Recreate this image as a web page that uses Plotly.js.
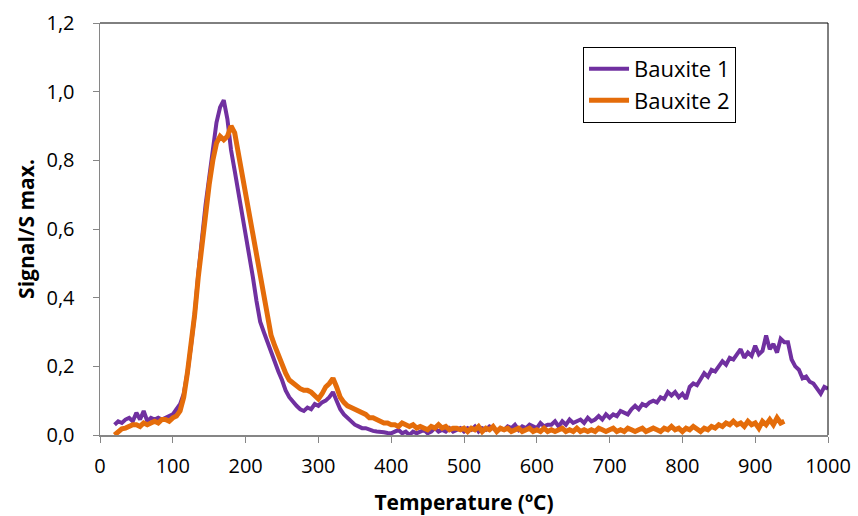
<!DOCTYPE html>
<html>
<head>
<meta charset="utf-8">
<script src="https://cdn.plot.ly/plotly-3.0.1.min.js"></script>
<style>html,body{margin:0;padding:0;background:#fff;}#chart{width:858px;height:516px;}</style>
</head>
<body>
<div id="chart"></div>
<script>
// Temperature (ºC) grid for Bauxite 1
const tempB1 = [20,25,30,35,40,45,50,55,60,65,70,75,80,85,90,95,100,105,110,115,120,125,130,135,140,145,150,155,160,165,170,175,180,185,190,195,200,205,210,215,220,225,230,235,240,245,250,255,260,265,270,275,280,285,290,295,300,305,310,315,320,325,330,335,340,345,350,355,360,365,370,375,380,385,390,395,400,405,410,415,420,425,430,435,440,445,450,455,460,465,470,475,480,485,490,495,500,505,510,515,520,525,530,535,540,545,550,555,560,565,570,575,580,585,590,595,600,605,610,615,620,625,630,635,640,645,650,655,660,665,670,675,680,685,690,695,700,705,710,715,720,725,730,735,740,745,750,755,760,765,770,775,780,785,790,795,800,805,810,815,820,825,830,835,840,845,850,855,860,865,870,875,880,885,890,895,900,905,910,915,920,925,930,935,940,945,950,955,960,965,970,975,980,985,990,995,1000];
const signalB1 = [0.03,0.04,0.035,0.045,0.05,0.04,0.065,0.045,0.07,0.04,0.05,0.045,0.05,0.045,0.05,0.055,0.06,0.075,0.09,0.12,0.18,0.26,0.35,0.47,0.58,0.67,0.75,0.84,0.91,0.955,0.975,0.92,0.83,0.77,0.71,0.65,0.59,0.52,0.46,0.39,0.33,0.30,0.27,0.24,0.21,0.185,0.16,0.13,0.11,0.095,0.085,0.075,0.07,0.08,0.075,0.09,0.085,0.095,0.10,0.11,0.125,0.10,0.075,0.06,0.05,0.04,0.03,0.025,0.02,0.02,0.015,0.012,0.01,0.01,0.008,0.006,0.005,0.01,0.015,0.005,0.01,0.0,0.01,0.005,0.01,0.015,0.005,0.01,0.02,0.01,0.015,0.01,0.02,0.01,0.015,0.02,0.01,0.02,0.015,0.025,0.01,0.02,0.015,0.025,0.02,0.01,0.02,0.015,0.025,0.02,0.03,0.015,0.025,0.02,0.03,0.025,0.02,0.035,0.025,0.03,0.03,0.04,0.025,0.04,0.03,0.045,0.035,0.04,0.045,0.035,0.05,0.04,0.045,0.055,0.045,0.06,0.05,0.06,0.055,0.07,0.065,0.06,0.075,0.085,0.075,0.09,0.085,0.095,0.10,0.095,0.11,0.105,0.125,0.115,0.125,0.11,0.12,0.105,0.14,0.15,0.145,0.165,0.18,0.17,0.19,0.185,0.20,0.215,0.205,0.225,0.22,0.235,0.25,0.225,0.24,0.23,0.26,0.235,0.245,0.29,0.25,0.265,0.24,0.28,0.27,0.27,0.22,0.20,0.19,0.165,0.17,0.155,0.15,0.135,0.12,0.14,0.135];

// Temperature (ºC) grid for Bauxite 2
const tempB2 = [20,25,30,35,40,45,50,55,60,65,70,75,80,85,90,95,100,105,110,115,120,125,130,135,140,145,150,155,160,165,170,175,180,185,190,195,200,205,210,215,220,225,230,235,240,245,250,255,260,265,270,275,280,285,290,295,300,305,310,315,320,325,330,335,340,345,350,355,360,365,370,375,380,385,390,395,400,405,410,415,420,425,430,435,440,445,450,455,460,465,470,475,480,485,490,495,500,505,510,515,520,525,530,535,540,545,550,555,560,565,570,575,580,585,590,595,600,605,610,615,620,625,630,635,640,645,650,655,660,665,670,675,680,685,690,695,700,705,710,715,720,725,730,735,740,745,750,755,760,765,770,775,780,785,790,795,800,805,810,815,820,825,830,835,840,845,850,855,860,865,870,875,880,885,890,895,900,905,910,915,920,925,930,935,940];
const signalB2 = [0.0,0.01,0.018,0.02,0.025,0.03,0.03,0.025,0.035,0.03,0.035,0.04,0.035,0.045,0.045,0.04,0.05,0.055,0.07,0.11,0.18,0.26,0.35,0.46,0.56,0.65,0.73,0.80,0.85,0.87,0.86,0.87,0.90,0.88,0.82,0.77,0.71,0.645,0.58,0.515,0.45,0.39,0.33,0.29,0.26,0.23,0.20,0.18,0.16,0.15,0.14,0.135,0.13,0.13,0.125,0.115,0.105,0.12,0.14,0.15,0.165,0.14,0.11,0.095,0.085,0.08,0.075,0.07,0.065,0.06,0.05,0.05,0.045,0.04,0.035,0.035,0.03,0.03,0.025,0.035,0.03,0.025,0.03,0.02,0.025,0.02,0.015,0.025,0.02,0.03,0.02,0.025,0.015,0.02,0.02,0.015,0.02,0.01,0.02,0.015,0.025,0.01,0.02,0.015,0.025,0.01,0.02,0.015,0.02,0.01,0.015,0.02,0.01,0.015,0.02,0.01,0.015,0.01,0.02,0.01,0.015,0.01,0.015,0.02,0.01,0.015,0.01,0.02,0.01,0.015,0.01,0.015,0.01,0.02,0.015,0.01,0.015,0.02,0.01,0.015,0.01,0.02,0.015,0.01,0.015,0.02,0.01,0.015,0.02,0.015,0.01,0.02,0.015,0.025,0.015,0.02,0.01,0.02,0.015,0.025,0.015,0.01,0.02,0.015,0.025,0.02,0.03,0.025,0.035,0.03,0.04,0.03,0.035,0.025,0.04,0.03,0.035,0.02,0.04,0.03,0.045,0.03,0.05,0.035,0.04];

const seriesNames = ["Bauxite 1", "Bauxite 2"];
const xTicks = [0,100,200,300,400,500,600,700,800,900,1000];
const yTicks = [0,0.2,0.4,0.6,0.8,1.0,1.2];

const font = "'Open Sans', sans-serif";

const traces = [
  {x: tempB1, y: signalB1, name: seriesNames[0], type: "scatter", mode: "lines",
   line: {color: "#7030A0", width: 4}},
  {x: tempB2, y: signalB2, name: seriesNames[1], type: "scatter", mode: "lines",
   line: {color: "#E46C0A", width: 5}}
];

const axisCommon = {
  showgrid: false, zeroline: false, showline: true, linecolor: "#868686", linewidth: 1.5,
  ticks: "outside", ticklen: 6, tickcolor: "#868686", tickwidth: 1,
  tickfont: {family: font, size: 20, color: "#000"}
};

const layout = {
  width: 858, height: 516,
  margin: {l: 100, r: 30, t: 23, b: 81},
  paper_bgcolor: "#fff", plot_bgcolor: "#fff",
  separators: ",.",
  showlegend: true,
  legend: {x: 0.6635, y: 0.942, xanchor: "left", yanchor: "top",
    bordercolor: "#000", borderwidth: 1, bgcolor: "#fff", itemwidth: 40,
    font: {family: font, size: 22, color: "#000"}, tracegroupgap: 0},
  xaxis: Object.assign({}, axisCommon, {range: [0, 1000], tickvals: xTicks, ticklabelstandoff: 6,
    title: {text: "<b>Temperature (ºC)</b>", font: {family: font, size: 21, color: "#000"}, standoff: 18}}),
  yaxis: Object.assign({}, axisCommon, {range: [0, 1.2], tickvals: yTicks, tickformat: ".1f", ticklabelstandoff: 14,
    title: {text: "<b>Signal/S max.</b>", font: {family: font, size: 21, color: "#000"}, standoff: 6}}),
  shapes: [
    {type: "line", xref: "paper", yref: "paper", x0: 0, x1: 1, y0: 1, y1: 1, line: {color: "#000", width: 1}},
    {type: "line", xref: "paper", yref: "paper", x0: 1, x1: 1, y0: 0, y1: 1, line: {color: "#000", width: 1}}
  ]
};

Plotly.newPlot("chart", traces, layout, {staticPlot: true, displayModeBar: false});
</script>
</body>
</html>
